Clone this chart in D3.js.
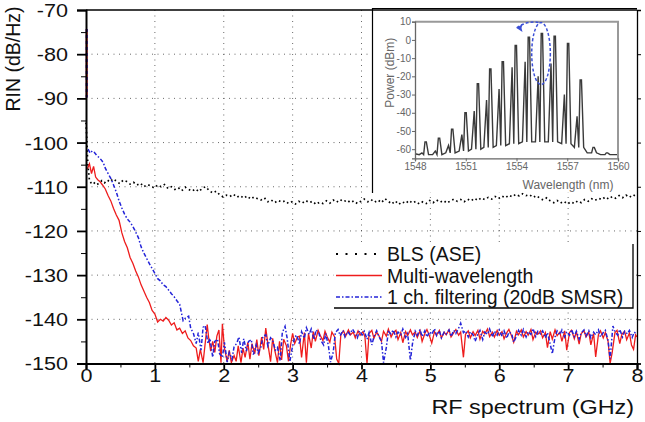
<!DOCTYPE html>
<html>
<head>
<meta charset="utf-8">
<script src="https://cdn.jsdelivr.net/npm/d3@7"></script>
<style>
  body { margin: 0; background: #fff; }
  text { font-family: "Liberation Sans", Arial, sans-serif; }
</style>
</head>
<body>
<div id="graph"></div>
<script>
// ---- data (GHz, dB/Hz) ----
const xTicks = [0, 1, 2, 3, 4, 5, 6, 7, 8];
const xMinor = [0.5, 1.5, 2.5, 3.5, 4.5, 5.5, 6.5, 7.5];
const yTicks = [-70, -80, -90, -100, -110, -120, -130, -140, -150];
const yMinor = [-75, -85, -95, -105, -115, -125, -135, -145];

const legendNames = ["BLS (ASE)", "Multi-wavelength", "1 ch. filtering (20dB SMSR)"];

// short spike at DC (both red and blue)
const dcSpike = [[0.01, -74.3], [0.01, -89.8]];

const blsAse = [[0,-95.5],[0.01,-98.5],[0.02,-102.8],[0.03,-105.5],[0.05,-108.6],[0.08,-109.3],[0.11,-109.0],[0.15,-109.6],
  [0.19,-109.2],[0.23,-108.6],[0.27,-109.1],[0.31,-108.5],[0.35,-108.9],[0.39,-108.2],[0.44,-108.7],[0.49,-109.3],
  [0.54,-108.5],[0.59,-108.8],[0.64,-109.4],[0.69,-109.0],[0.74,-109.6],[0.79,-109.2],[0.84,-110.0],[0.89,-109.5],
  [0.94,-109.8],[0.99,-110.3],[1.04,-109.6],[1.09,-110.0],[1.14,-109.5],[1.19,-110.4],[1.24,-110.0],[1.29,-110.6],
  [1.34,-110.2],[1.39,-110.9],[1.44,-110.1],[1.49,-110.6],[1.54,-111.0],[1.59,-110.5],[1.64,-111.1],[1.69,-110.3],
  [1.74,-110.0],[1.79,-110.9],[1.84,-111.4],[1.89,-111.0],[1.94,-111.8],[1.99,-112.3],[2.04,-111.9],[2.09,-112.2],
  [2.14,-111.7],[2.19,-112.4],[2.24,-112.0],[2.29,-112.6],[2.34,-112.1],[2.39,-112.8],[2.44,-112.3],[2.49,-112.7],
  [2.54,-113.0],[2.59,-112.5],[2.64,-113.4],[2.69,-113.0],[2.74,-113.6],[2.79,-113.1],[2.84,-113.5],[2.89,-113.2],
  [2.94,-113.8],[2.99,-113.4],[3.04,-113.9],[3.09,-113.3],[3.14,-113.7],[3.19,-113.1],[3.24,-113.6],[3.29,-113.3],
  [3.34,-114.0],[3.39,-113.5],[3.44,-113.8],[3.49,-113.2],[3.54,-113.7],[3.59,-113.0],[3.64,-113.5],[3.69,-112.9],
  [3.74,-113.4],[3.79,-113.0],[3.84,-113.6],[3.89,-113.2],[3.94,-113.8],[3.99,-113.3],[4.04,-112.8],[4.09,-113.4],
  [4.14,-112.9],[4.19,-113.5],[4.24,-113.0],[4.29,-113.6],[4.34,-112.7],[4.39,-113.3],[4.44,-113.9],[4.49,-113.2],
  [4.54,-114.0],[4.59,-113.4],[4.64,-113.8],[4.69,-113.1],[4.74,-113.7],[4.79,-113.3],[4.84,-113.9],[4.89,-113.4],
  [4.94,-113.8],[4.99,-113.1],[5.04,-113.6],[5.09,-113.0],[5.14,-113.5],[5.19,-113.1],[5.24,-113.7],[5.29,-113.2],
  [5.34,-112.8],[5.39,-113.3],[5.44,-112.9],[5.49,-113.4],[5.54,-112.8],[5.59,-113.2],[5.64,-112.6],[5.69,-113.1],
  [5.74,-112.5],[5.79,-112.9],[5.84,-112.4],[5.89,-112.8],[5.94,-112.2],[5.99,-112.7],[6.04,-112.1],[6.09,-112.5],
  [6.14,-111.9],[6.19,-112.3],[6.24,-111.7],[6.29,-112.1],[6.34,-111.6],[6.39,-112.0],[6.44,-111.8],[6.49,-112.4],
  [6.54,-112.0],[6.59,-112.6],[6.64,-113.0],[6.69,-112.5],[6.74,-113.2],[6.79,-113.6],[6.84,-113.1],[6.89,-113.7],
  [6.94,-113.3],[6.99,-113.9],[7.04,-113.4],[7.09,-113.8],[7.14,-113.2],[7.19,-113.6],[7.24,-112.9],[7.29,-113.3],
  [7.34,-112.7],[7.39,-113.1],[7.44,-112.6],[7.49,-112.9],[7.54,-112.3],[7.59,-112.8],[7.64,-112.2],[7.69,-112.6],
  [7.74,-112.0],[7.79,-112.5],[7.84,-111.9],[7.89,-112.4],[7.94,-111.8],[7.99,-112.2]];

const multiWl = [[0.02,-106.0],[0.05,-104.8],[0.08,-107.0],[0.11,-105.4],[0.14,-107.8],[0.17,-108.4],[0.20,-108.8],
  [0.24,-109.6],[0.28,-110.5],[0.32,-112.0],[0.36,-113.2],[0.40,-114.9],[0.44,-116.4],[0.48,-117.6],[0.52,-120.4],
  [0.56,-122.4],[0.60,-123.8],[0.64,-126.0],[0.68,-127.3],[0.72,-129.0],[0.76,-130.4],[0.80,-132.2],[0.84,-133.6],
  [0.88,-135.0],[0.92,-136.2],[0.96,-138.0],[1.00,-138.8],[1.04,-140.6],[1.08,-140.0],[1.12,-140.4],[1.16,-139.6],
  [1.20,-140.2],[1.24,-141.3],[1.28,-140.8],[1.32,-142.4],[1.36,-142.0],[1.40,-143.2],[1.44,-142.6],[1.48,-144.2],
  [1.52,-144.8],[1.56,-146.0],[1.60,-146.5],[1.63,-149.5],[1.66,-146.8],[1.70,-149.8],[1.73,-145.5],[1.76,-141.2],
  [1.78,-144.0],[1.81,-147.2],[1.84,-145.0],[1.87,-147.5],[1.90,-143.8],[1.93,-142.4],[1.96,-149.8],[1.98,-141.0],
  [2.01,-146.5],[2.05,-149.6],[2.08,-147.0],[2.11,-149.8],[2.15,-148.2],[2.18,-149.5],[2.21,-146.0],[2.25,-149.8],
  [2.28,-146.5],[2.31,-148.6],[2.35,-145.2],[2.38,-149.0],[2.41,-145.5],[2.45,-147.8],[2.48,-144.6],[2.51,-148.2],
  [2.55,-144.0],[2.58,-146.8],[2.61,-142.0],[2.64,-145.5],[2.68,-149.6],[2.71,-144.3],[2.74,-147.0],[2.78,-149.8],
  [2.81,-145.0],[2.84,-149.2],[2.87,-144.5],[2.91,-146.0],[2.94,-149.5],[2.97,-145.8],[3.00,-143.2],[3.03,-145.5],
  [3.07,-144.0],[3.10,-143.8],[3.13,-148.6],[3.17,-143.0],[3.20,-149.8],[3.23,-143.2],[3.27,-146.5],[3.30,-142.8],
  [3.33,-145.0],[3.37,-142.5],[3.40,-143.6],[3.44,-144.8],[3.47,-142.7],[3.50,-143.9],[3.54,-145.2],[3.57,-142.9],
  [3.61,-144.0],[3.64,-149.0],[3.67,-150.0],[3.70,-143.5],[3.74,-142.6],[3.77,-143.8],[3.81,-142.4],[3.84,-143.5],
  [3.88,-142.9],[3.91,-144.2],[3.95,-142.6],[3.98,-143.6],[4.02,-142.8],[4.05,-144.0],[4.08,-150.0],[4.11,-143.2],
  [4.15,-142.5],[4.18,-144.3],[4.22,-142.9],[4.25,-143.6],[4.29,-145.0],[4.32,-142.7],[4.36,-143.8],[4.39,-142.2],
  [4.43,-144.0],[4.46,-143.1],[4.50,-142.5],[4.53,-144.6],[4.57,-143.0],[4.60,-145.3],[4.64,-142.8],[4.67,-143.7],
  [4.71,-142.4],[4.74,-143.5],[4.78,-142.9],[4.81,-144.1],[4.85,-142.6],[4.88,-145.0],[4.92,-143.2],[4.95,-142.3],
  [4.99,-143.9],[5.02,-145.4],[5.06,-142.8],[5.09,-143.6],[5.13,-142.5],[5.16,-144.2],[5.20,-142.9],[5.23,-143.5],
  [5.27,-142.4],[5.30,-144.0],[5.34,-143.0],[5.37,-142.3],[5.41,-143.6],[5.44,-142.9],[5.48,-148.6],[5.51,-143.4],
  [5.55,-142.6],[5.58,-144.2],[5.62,-142.8],[5.65,-143.7],[5.69,-142.5],[5.72,-144.5],[5.76,-142.7],[5.79,-143.3],
  [5.83,-142.2],[5.86,-143.9],[5.90,-142.9],[5.93,-144.0],[5.97,-142.5],[6.00,-143.6],[6.04,-142.8],[6.07,-144.4],
  [6.11,-143.0],[6.14,-142.3],[6.18,-143.8],[6.21,-145.2],[6.25,-142.7],[6.28,-143.5],[6.32,-142.4],[6.35,-144.0],
  [6.39,-142.8],[6.42,-143.6],[6.46,-142.3],[6.49,-144.6],[6.53,-142.9],[6.56,-143.4],[6.60,-142.6],[6.63,-144.2],
  [6.67,-143.0],[6.70,-146.4],[6.74,-142.8],[6.77,-144.5],[6.81,-142.4],[6.84,-143.7],[6.88,-142.9],[6.91,-145.0],
  [6.95,-142.6],[6.98,-147.0],[7.02,-143.0],[7.05,-142.5],[7.09,-144.4],[7.12,-142.8],[7.16,-145.6],[7.19,-143.2],
  [7.23,-142.6],[7.26,-144.0],[7.30,-142.9],[7.33,-145.8],[7.37,-143.2],[7.40,-148.5],[7.44,-143.5],[7.47,-142.6],
  [7.51,-144.2],[7.54,-143.0],[7.58,-145.0],[7.61,-150.0],[7.64,-147.5],[7.68,-143.0],[7.71,-142.5],[7.75,-145.5],
  [7.78,-143.4],[7.82,-142.7],[7.85,-144.6],[7.89,-143.1],[7.92,-145.8],[7.95,-146.8],[7.98,-143.5],[8.00,-144.0]];

const oneCh = [[0.03,-101.5],[0.06,-102.4],[0.09,-101.9],[0.12,-102.2],[0.16,-103.0],[0.20,-103.5],[0.25,-104.5],
  [0.28,-105.8],[0.32,-107.0],[0.36,-108.1],[0.40,-109.6],[0.44,-111.2],[0.48,-113.2],[0.52,-114.8],[0.56,-116.2],
  [0.60,-117.3],[0.64,-118.0],[0.68,-119.0],[0.72,-120.2],[0.76,-121.5],[0.80,-123.6],[0.84,-125.0],[0.88,-126.2],
  [0.92,-127.4],[0.96,-128.5],[1.00,-129.6],[1.04,-130.8],[1.08,-131.3],[1.12,-132.2],[1.16,-132.6],[1.20,-133.4],
  [1.24,-134.2],[1.28,-134.9],[1.32,-135.8],[1.36,-136.6],[1.41,-140.3],[1.45,-139.6],[1.49,-139.3],[1.52,-142.0],
  [1.56,-143.2],[1.60,-145.5],[1.63,-143.0],[1.67,-147.0],[1.70,-141.8],[1.73,-141.4],[1.77,-145.5],[1.80,-144.3],
  [1.84,-148.6],[1.87,-145.0],[1.91,-144.5],[1.94,-147.8],[1.98,-148.6],[2.01,-145.2],[2.05,-149.7],[2.08,-147.5],
  [2.12,-149.0],[2.15,-146.2],[2.19,-145.4],[2.22,-144.0],[2.26,-147.6],[2.29,-144.4],[2.33,-147.2],[2.36,-145.0],
  [2.40,-144.6],[2.43,-148.0],[2.47,-145.8],[2.50,-147.6],[2.54,-146.2],[2.57,-143.8],[2.61,-143.5],[2.64,-146.0],
  [2.68,-144.2],[2.71,-144.8],[2.75,-147.0],[2.78,-146.4],[2.82,-149.4],[2.85,-143.0],[2.89,-141.6],[2.92,-144.2],
  [2.96,-149.6],[2.99,-146.8],[3.03,-144.0],[3.06,-143.6],[3.10,-145.6],[3.13,-142.8],[3.17,-144.3],[3.20,-141.9],
  [3.24,-143.4],[3.27,-142.2],[3.31,-144.6],[3.34,-142.4],[3.38,-143.0],[3.41,-144.8],[3.45,-145.8],[3.48,-143.2],
  [3.52,-146.0],[3.55,-149.7],[3.59,-147.4],[3.62,-143.0],[3.66,-142.3],[3.69,-143.7],[3.73,-142.5],[3.76,-144.0],
  [3.80,-142.8],[3.83,-143.4],[3.87,-142.2],[3.90,-143.0],[3.94,-144.2],[3.97,-142.6],[4.01,-143.5],[4.04,-142.7],
  [4.08,-144.5],[4.11,-143.0],[4.15,-145.8],[4.18,-144.0],[4.22,-142.6],[4.25,-143.8],[4.29,-145.0],[4.32,-149.8],
  [4.36,-146.4],[4.39,-142.8],[4.43,-143.3],[4.46,-142.4],[4.50,-144.0],[4.53,-142.9],[4.57,-143.5],[4.60,-142.2],
  [4.64,-144.1],[4.67,-143.2],[4.71,-149.3],[4.74,-145.5],[4.78,-142.7],[4.81,-143.6],[4.85,-142.3],[4.88,-143.9],
  [4.92,-142.6],[4.95,-144.0],[4.99,-142.8],[5.02,-143.4],[5.06,-142.1],[5.09,-143.7],[5.13,-142.6],[5.16,-144.2],
  [5.20,-142.9],[5.23,-143.3],[5.27,-142.4],[5.30,-143.9],[5.34,-142.5],[5.37,-143.2],[5.41,-142.0],[5.44,-140.9],
  [5.48,-143.0],[5.51,-142.6],[5.55,-144.0],[5.58,-142.8],[5.62,-143.5],[5.65,-145.0],[5.69,-143.3],[5.72,-142.5],
  [5.76,-144.6],[5.79,-142.9],[5.83,-143.4],[5.86,-142.2],[5.90,-144.0],[5.93,-142.7],[5.97,-143.6],[6.00,-142.4],
  [6.04,-143.8],[6.07,-142.6],[6.11,-144.3],[6.14,-142.9],[6.18,-143.2],[6.21,-145.2],[6.25,-143.8],[6.28,-142.5],
  [6.32,-143.6],[6.35,-142.3],[6.39,-144.0],[6.42,-142.8],[6.46,-143.4],[6.49,-142.1],[6.53,-143.9],[6.56,-142.7],
  [6.60,-143.3],[6.63,-142.6],[6.67,-144.2],[6.70,-143.0],[6.74,-145.6],[6.77,-147.8],[6.81,-144.0],[6.84,-142.6],
  [6.88,-143.5],[6.91,-142.4],[6.95,-144.0],[6.98,-142.8],[7.02,-143.6],[7.05,-142.3],[7.09,-143.9],[7.12,-142.7],
  [7.16,-144.5],[7.19,-143.1],[7.23,-142.4],[7.26,-143.8],[7.30,-142.6],[7.33,-144.2],[7.37,-142.9],[7.40,-143.5],
  [7.44,-142.4],[7.47,-144.0],[7.51,-143.0],[7.54,-142.5],[7.58,-144.8],[7.61,-148.9],[7.65,-141.5],[7.68,-142.8],
  [7.72,-143.6],[7.75,-142.3],[7.79,-144.0],[7.82,-142.7],[7.86,-143.3],[7.89,-142.5],[7.93,-144.1],[7.96,-142.9],
  [8.00,-143.4]];

// ---- inset: optical spectrum (nm, dBm) ----
const insetXTicks = [1548, 1551, 1554, 1557, 1560];
const insetYTicks = [10, 0, -10, -20, -30, -40, -50, -60];
const peakNm   = [1548.63, 1549.42, 1550.20, 1550.99, 1551.72, 1552.45, 1553.19, 1553.96, 1554.73, 1555.50, 1556.26, 1557.05, 1557.80, 1558.56, 1559.35];
const peakDbm  = [-56, -54, -49, -40, -24, -16, -12, -3, 1.5, 3.5, 2, -2, -22, -59, -62];
const sideDbm  = [-62, -61, -58, -52, -39, -33, -27, -15, -12, -20, -13, -30, -42, -62, -63];
const troughDbm = [-63, -63, -62, -61, -60, -59, -58, -57, -56, -56, -56, -57, -59, -62, -63];
const markNm = 1555.45, markTop = 9.5, markBottom = -24.5, markHalfNm = 0.55;
const arrowFrom = [1555.3, 9.6], arrowTo = [1554.0, 6.6];

const width = 645, height = 422;
const margin = {top: 10, right: 8, bottom: 58.5, left: 86};

let svg = d3.select("#graph").append("svg")
    .attr("width", width)
    .attr("height", height);

let x = d3.scaleLinear().domain([0, 8]).range([margin.left, width - margin.right]);
let y = d3.scaleLinear().domain([-150, -70]).range([height - margin.bottom, margin.top]);

const RED = "#ee1c1c", BLUE = "#2323d8";

// grid (sparse dots)
let grid = svg.append("g").attr("stroke", "#444").attr("stroke-width", 0.8).attr("stroke-dasharray", "1,4.5");
grid.selectAll(".gx").data(xTicks.slice(1, -1)).enter().append("line")
    .attr("x1", d => x(d)).attr("x2", d => x(d))
    .attr("y1", y(-70)).attr("y2", y(-150));
grid.selectAll(".gy").data(yTicks.slice(1, -1)).enter().append("line")
    .attr("x1", x(0)).attr("x2", x(8))
    .attr("y1", d => y(d)).attr("y2", d => y(d));

let line = d3.line().x(d => x(d[0])).y(d => y(d[1]));

svg.append("path").datum(blsAse).attr("d", line)
    .attr("fill", "none").attr("stroke", "#000").attr("stroke-width", 1.7)
    .attr("stroke-dasharray", "1.6,3");
svg.append("path").datum(multiWl).attr("d", line)
    .attr("fill", "none").attr("stroke", RED).attr("stroke-width", 1.3);
svg.append("path").datum(oneCh).attr("d", line)
    .attr("fill", "none").attr("stroke", BLUE).attr("stroke-width", 1.5)
    .attr("stroke-dasharray", "4,2,1.5,2");
svg.append("path").datum(dcSpike).attr("d", line)
    .attr("fill", "none").attr("stroke", RED).attr("stroke-width", 2);
svg.append("path").datum(dcSpike).attr("d", line)
    .attr("fill", "none").attr("stroke", BLUE).attr("stroke-width", 2)
    .attr("stroke-dasharray", "3,3");

// ---- inset ----
let inset = svg.append("g");
inset.append("rect").attr("x", 372.5).attr("y", 8.5).attr("width", 264.5).attr("height", 184)
    .attr("fill", "#fff");
inset.append("path").attr("d", "M372.5,193V8.5H637")
    .attr("fill", "none").attr("stroke", "#000").attr("stroke-width", 1.2);

let ix = d3.scaleLinear().domain([1548, 1560]).range([415, 618]);
let iy = d3.scaleLinear().domain([-65, 10]).range([158.3, 21.7]);

// spectrum outline built from the read peak table
let spec = [[1548, -62.5]];
peakNm.forEach((p, i) => {
  spec.push([p - 0.38, troughDbm[i]]);
  spec.push([p - 0.22, sideDbm[i]]);
  spec.push([p - 0.12, troughDbm[i]]);
  spec.push([p - 0.04, peakDbm[i]]);
  spec.push([p + 0.04, peakDbm[i]]);
  spec.push([p + 0.17, troughDbm[i]]);
});
spec.push([1560, -63]);

inset.append("path").datum(spec)
    .attr("d", d3.line().x(d => ix(d[0])).y(d => iy(d[1])))
    .attr("fill", "none").attr("stroke", "#3a3a3a").attr("stroke-width", 1.4);

// inset frame
inset.append("path").attr("d", `M${ix(1548)},${iy(10)}H${ix(1560)}V${iy(-65)}`)
    .attr("fill", "none").attr("stroke", "#999").attr("stroke-width", 2);
let iax = inset.append("g").attr("transform", `translate(0,${iy(-65)})`)
    .call(d3.axisBottom(ix).tickValues(insetXTicks).tickSize(3).tickPadding(2).tickFormat(d3.format("d")));
let iay = inset.append("g").attr("transform", `translate(${ix(1548)},0)`)
    .call(d3.axisLeft(iy).tickValues(insetYTicks).tickSize(3).tickPadding(1).tickFormat(d => String(d)));
[iax, iay].forEach(a => {
  a.select(".domain").attr("stroke", "#666").attr("stroke-width", 1.3);
  a.selectAll(".tick line").attr("stroke", "#666");
  a.selectAll(".tick text").attr("fill", "#666").style("font-size", "10px")
      .style("font-family", "'Liberation Sans', Arial, sans-serif");
});
inset.append("text").attr("x", 568).attr("y", 189).attr("text-anchor", "middle")
    .attr("fill", "#666").style("font-size", "12px").text("Wavelength (nm)");
inset.append("text").attr("transform", `translate(394,${iy(-18)}) rotate(-90)`).attr("text-anchor", "middle")
    .attr("fill", "#666").style("font-size", "12px").text("Power (dBm)");

// highlighted channel
inset.append("ellipse")
    .attr("cx", ix(markNm)).attr("cy", (iy(markTop) + iy(markBottom)) / 2)
    .attr("rx", ix(markNm + markHalfNm) - ix(markNm)).attr("ry", (iy(markBottom) - iy(markTop)) / 2)
    .attr("fill", "none").attr("stroke", "#3b4fd6").attr("stroke-width", 1.5).attr("stroke-dasharray", "3,2");
let ax0 = ix(arrowFrom[0]), ay0 = iy(arrowFrom[1]), ax1 = ix(arrowTo[0]), ay1 = iy(arrowTo[1]);
inset.append("path").attr("d", `M${ax0},${ay0}Q${(ax0 + ax1) / 2},${ay0 - 2} ${ax1},${ay1}`)
    .attr("fill", "none").attr("stroke", "#3b4fd6").attr("stroke-width", 1.5).attr("stroke-dasharray", "3,2");
inset.append("path").attr("d", `M${ax1},${ay1}l6,-4l-1,4l1,4z`).attr("fill", "#3b4fd6");

// ---- legend ----
let legend = svg.append("g");
legend.append("rect").attr("x", 334).attr("y", 244).attr("width", 299).attr("height", 64).attr("fill", "#fff");
legend.append("path").attr("d", "M334,308H633V244").attr("fill", "none").attr("stroke", "#000").attr("stroke-width", 1.3);
const legendStyle = [
  {stroke: "#000", dash: "2,7.5", w: 2},
  {stroke: RED, dash: null, w: 1.5},
  {stroke: BLUE, dash: "4,2,1.5,2", w: 1.5}
];
legendNames.forEach((name, i) => {
  let ly = 254 + i * 21.5;
  legend.append("line").attr("x1", 336).attr("x2", 382).attr("y1", ly).attr("y2", ly)
      .attr("stroke", legendStyle[i].stroke).attr("stroke-width", legendStyle[i].w)
      .attr("stroke-dasharray", legendStyle[i].dash);
  legend.append("text").attr("x", 387).attr("y", ly + 7).style("font-size", "19.5px")
      .attr("fill", "#111").text(name);
});

// ---- axes ----
const SX = 1.2;
let xAxis = svg.append("g").attr("transform", `translate(0,${y(-150)})`)
    .call(d3.axisBottom(x).tickValues(xTicks).tickSize(6).tickFormat(d3.format("d")));
svg.append("g").attr("transform", `translate(0,${y(-150)})`)
    .call(d3.axisBottom(x).tickValues(xMinor).tickSize(4).tickFormat(""))
    .select(".domain").remove();
let yAxis = svg.append("g").attr("transform", `translate(${x(0)},0)`)
    .call(d3.axisLeft(y).tickValues(yTicks).tickSize(9).tickFormat(d => String(d)));
svg.append("g").attr("transform", `translate(${x(0)},0)`)
    .call(d3.axisLeft(y).tickValues(yMinor).tickSize(5).tickFormat(""))
    .select(".domain").remove();
svg.append("g").attr("transform", `translate(${x(8)},0)`)
    .call(d3.axisLeft(y).tickValues(yTicks).tickSize(-4).tickFormat(""))
    .select(".domain").attr("stroke-width", 1.3);
svg.append("line").attr("x1", x(0)).attr("x2", x(8)).attr("y1", y(-70)).attr("y2", y(-70))
    .attr("stroke", "#000").attr("stroke-width", 1.5);

[xAxis, yAxis].forEach(a => {
  a.select(".domain").attr("stroke-width", 2);
  a.selectAll(".tick line").attr("stroke-width", 1.8);
  a.selectAll(".tick text").style("font-size", "18px").attr("fill", "#111")
      .style("font-family", "'Liberation Sans', Arial, sans-serif");
});
xAxis.selectAll(".tick text").attr("y", 18.5).attr("dy", 0)
    .attr("transform", `scale(${SX},1)`);
yAxis.selectAll(".tick text").attr("x", -18 / SX).attr("dy", "0.36em")
    .attr("transform", `scale(${SX},1)`);

svg.append("text").attr("transform", `translate(634,414) scale(${SX},1)`)
    .attr("text-anchor", "end").style("font-size", "19.5px").attr("fill", "#111")
    .text("RF spectrum (GHz)");
svg.append("text").attr("transform", "translate(20,59) rotate(-90)")
    .attr("text-anchor", "middle").style("font-size", "19.5px").attr("fill", "#111")
    .text("RIN (dB/Hz)");
</script>
</body>
</html>
